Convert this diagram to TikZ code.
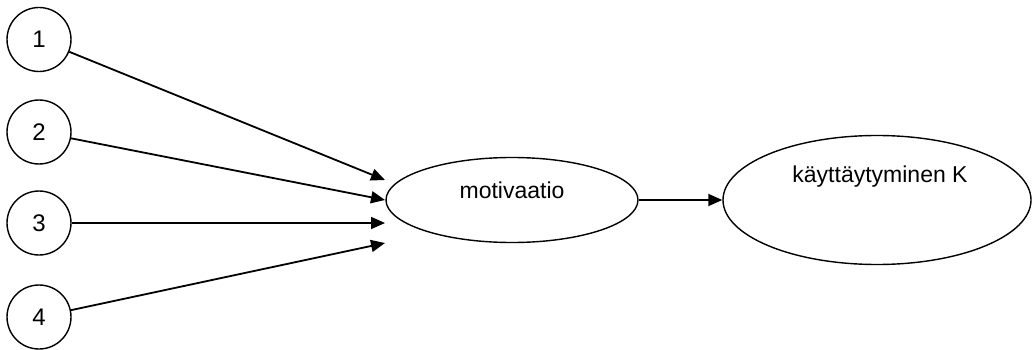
\documentclass[tikz,border=0pt]{standalone}
\usepackage{fontspec}
\setmainfont{Liberation Sans}
\usetikzlibrary{arrows.meta,shapes.geometric}
\begin{document}
\begin{tikzpicture}[x=1pt,y=-1pt,
  numcircle/.style={circle,draw,line width=1.4pt,minimum size=64pt,inner sep=0pt,font=\fontsize{24}{26}\selectfont},
  oval/.style={ellipse,draw,line width=1.4pt,inner sep=0pt},
  caption/.style={font=\fontsize{23}{26}\selectfont,inner sep=0pt},
  link/.style={line width=1.8pt,-{Triangle[length=14pt,width=12pt]}}]
  \useasboundingbox (0,0) rectangle (1032,350);
  % source circles
  \node[numcircle] (n1) at (39,39.5) {1};
  \node[numcircle] (n2) at (39,132) {2};
  \node[numcircle] (n3) at (39,223) {3};
  \node[numcircle] (n4) at (39,317) {4};
  % central and outcome ellipses
  \node[oval,minimum width=252pt,minimum height=85pt] (mot) at (512,200) {};
  \node[caption] (motl) at (512,190) {motivaatio};
  \node[oval,minimum width=308pt,minimum height=129pt] (beh) at (877,200) {};
  \node[caption] (behl) at (880,177) {käyttäytyminen K};
  % arrow tips in front of the central ellipse
  \coordinate (t1) at (385,180);
  \coordinate (t2) at (385,200);
  \coordinate (t3) at (385,223);
  \coordinate (t4) at (385,243);
  \draw[link] (n1) -- (t1);
  \draw[link] (n2) -- (t2);
  \draw[link] (n3) -- (t3);
  \draw[link] (n4) -- (t4);
  \draw[link] (mot.east) -- (beh.west);
\end{tikzpicture}
\end{document}
